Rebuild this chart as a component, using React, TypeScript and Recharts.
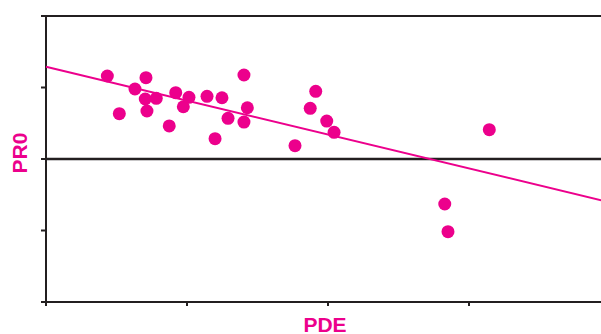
import React from "react";
import { ScatterChart, Scatter, XAxis, YAxis, ReferenceLine } from "recharts";

// PDE vs PR0 observations
const pdeValues = [
  0.435, 0.52, 0.631, 0.709, 0.704, 0.716, 0.782, 0.874, 0.92, 0.974, 1.014, 1.142, 1.199,
  1.248, 1.291, 1.404, 1.428, 1.404, 1.766, 1.874, 1.913, 1.991, 2.043, 3.144, 2.828, 2.851,
];
const pr0Values = [
  1.161, 0.634, 0.979, 1.137, 0.839, 0.671, 0.849, 0.462, 0.927, 0.731, 0.863, 0.877, 0.284,
  0.857, 0.569, 1.175, 0.717, 0.517, 0.186, 0.709, 0.947, 0.531, 0.373, 0.41, -0.629, -1.017,
];

// fitted trend line end points
const fitX = [0, 4];
const fitY = [1.29, -0.606];

const xTicks = [0, 1, 2, 3, 4];
const yTicks = [-2, -1, 0, 1, 2];

const MAGENTA = "#EC008C";
const INK = "#231F20";

const points = pdeValues.map((x, i) => ({ x, y: pr0Values[i] }));
const fit = fitX.map((x, i) => ({ x, y: fitY[i] }));

const Dot = (props: any) => <circle cx={props.cx} cy={props.cy} r={6.5} fill={MAGENTA} />;

const YTitle = () => (
  <text
    x={27}
    y={153}
    transform="rotate(-90 27 153)"
    textAnchor="middle"
    fill={MAGENTA}
    fontSize={21}
    fontWeight="bold"
    fontFamily="Liberation Sans, Arial, sans-serif"
  >
    PR0
  </text>
);

const XTitle = () => (
  <text
    x={325}
    y={332}
    textAnchor="middle"
    fill={MAGENTA}
    fontSize={21}
    fontWeight="bold"
    fontFamily="Liberation Sans, Arial, sans-serif"
  >
    PDE
  </text>
);

export default function App() {
  return (
    <div style={{ position: "fixed", left: 0, top: 0, width: 601, height: 334, overflow: "hidden", background: "#fff" }}>
      <ScatterChart width={620} height={340} margin={{ top: 16, right: 10, left: 0, bottom: 0 }}>
        <XAxis
          type="number"
          dataKey="x"
          domain={[0, 4]}
          ticks={xTicks}
          tickFormatter={() => ""}
          tickSize={4}
          height={38}
          axisLine={{ stroke: INK, strokeWidth: 2 }}
          tickLine={{ stroke: INK, strokeWidth: 2 }}
          label={<XTitle />}
        />
        <YAxis
          type="number"
          dataKey="y"
          domain={[-2, 2]}
          ticks={yTicks}
          tickFormatter={() => ""}
          tickSize={5}
          width={46}
          axisLine={{ stroke: INK, strokeWidth: 2 }}
          tickLine={{ stroke: INK, strokeWidth: 2 }}
          label={<YTitle />}
        />
        <ReferenceLine y={2} stroke={INK} strokeWidth={2} />
        <ReferenceLine y={0} stroke={INK} strokeWidth={2.5} />
        <Scatter
          data={fit}
          line={{ stroke: MAGENTA, strokeWidth: 2 }}
          shape={() => <g />}
          isAnimationActive={false}
        />
        <Scatter data={points} shape={Dot} isAnimationActive={false} />
      </ScatterChart>
    </div>
  );
}
